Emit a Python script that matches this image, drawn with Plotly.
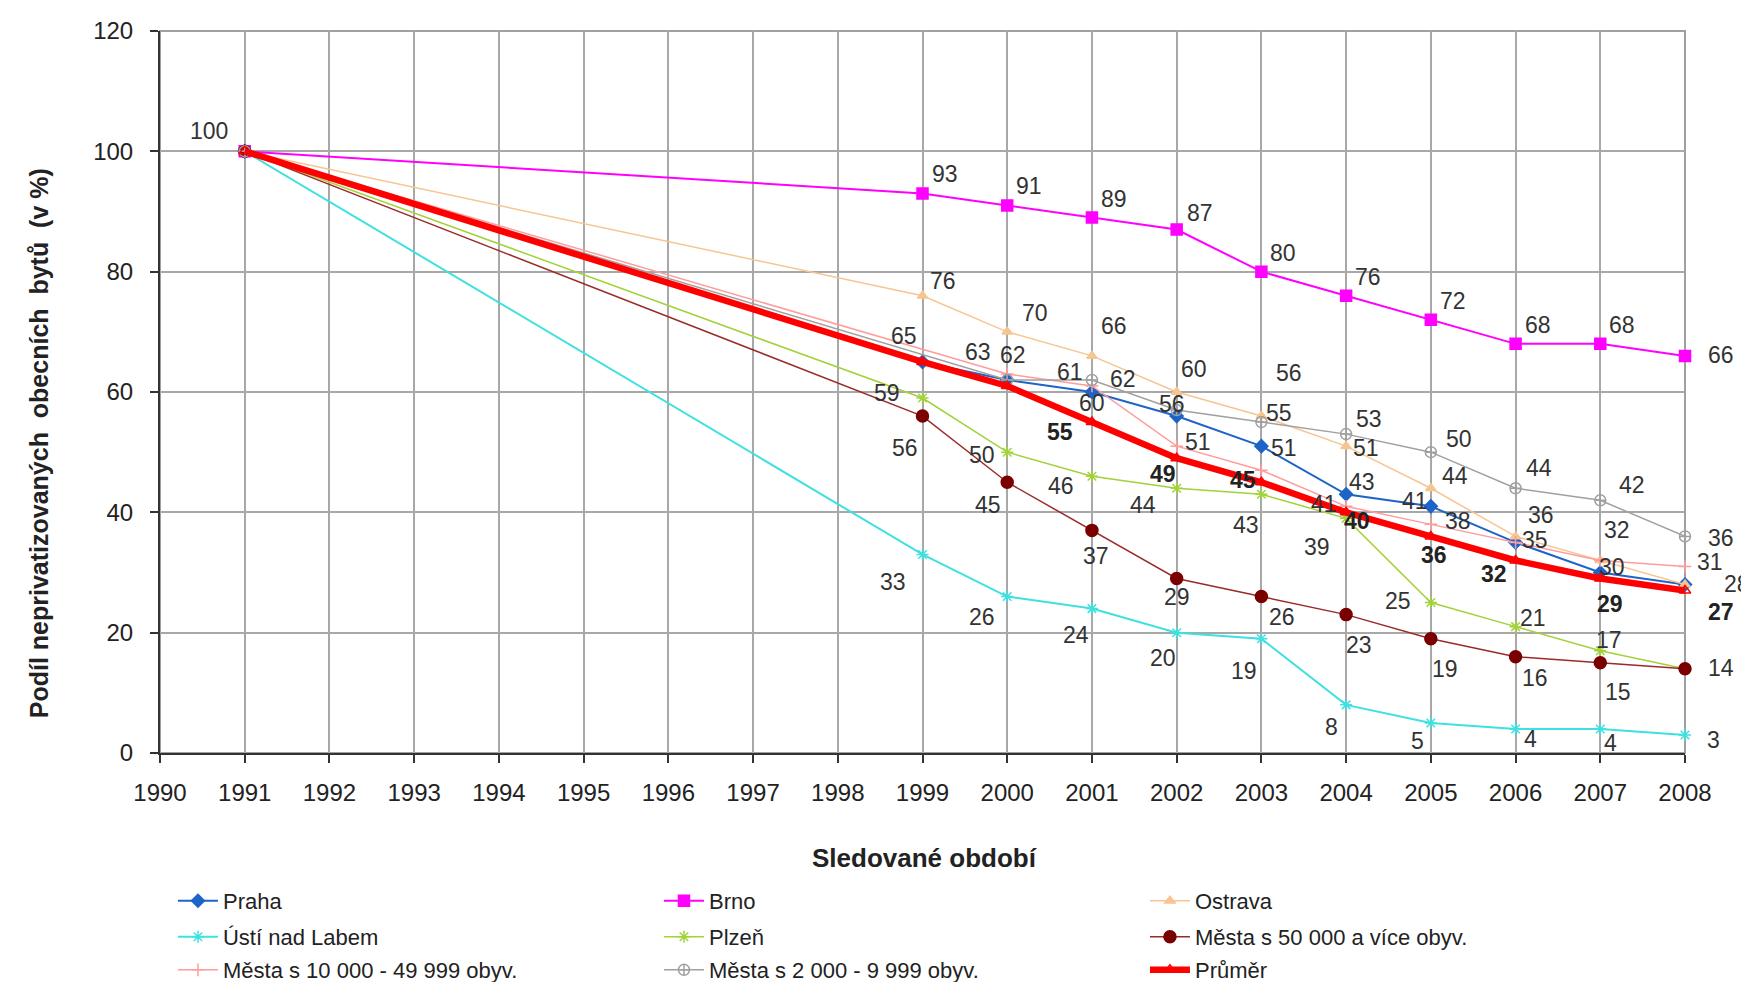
import plotly.graph_objects as go

years = [1991, 1999, 2000, 2001, 2002, 2003, 2004, 2005, 2006, 2007, 2008]

praha   = [100, 65, 62, 60, 56, 51, 43, 41, 35, 30, 28]
brno    = [100, 93, 91, 89, 87, 80, 76, 72, 68, 68, 66]
ostrava = [100, 76, 70, 66, 60, 56, 51, 44, 36, 32, 28]
usti    = [100, 33, 26, 24, 20, 19, 8, 5, 4, 4, 3]
plzen   = [100, 59, 50, 46, 44, 43, 39, 25, 21, 17, 14]
m50k    = [100, 56, 45, 37, 29, 26, 23, 19, 16, 15, 14]
m10k    = [100, None, 63, 61, 51, 47, 41, 38, 35, 32, 31]
m2k     = [100, None, 62, 62, 57, 55, 53, 50, 44, 42, 36]
prumer  = [100, 65, 61, 55, 49, 45, 40, 36, 32, 29, 27]

names = ["Praha", "Brno", "Ostrava", "Ústí nad Labem", "Plzeň",
         "Města s 50 000 a více obyv.", "Města s 10 000 - 49 999 obyv.",
         "Města s 2 000 - 9 999 obyv.", "Průměr"]

xticks = list(range(1990, 2009))
yticks = [0, 20, 40, 60, 80, 100, 120]

x_title = "Sledované období"
y_title = "Podíl neprivatizovaných  obecních  bytů  (v %)"

# ---- label offsets in pixels (dx, dy up); None = no label (style/positioning only) ----
off_praha   = [None, (-19, 26), (6, 25), (0, -11), (-5, 12), (23, -2), (16, 12), (-16, 5), (19, 2), (12, 6), None]
off_brno    = [None, (22, 19), (22, 19), (22, 19), (23, 17), (22, 19), (22, 19), (22, 19), (22, 19), (22, 19), (36, 1)]
off_ostrava = [None, (20, 15), (28, 19), (22, 30), (17, 23), (28, 43), (20, -2), (24, 12), (25, 21), (17, 30), (52, 1)]
off_usti    = [None, (-30, -28), (-25, -20), (-16, -26), (-14, -25), (-17, -32), (-15, -22), (-13, -18), (15, -10), (10, -14), (28, -5)]
off_plzen   = [None, (-36, 5), (-25, -3), (-31, -10), (-34, -17), (-15, -31), (-29, -29), (-33, 2), (17, 9), (9, 11), None]
off_m50k    = [None, (-18, -32), (-19, -23), (4, -26), (0, -18), (21, -20), (13, -30), (14, -30), (19, -21), (18, -29), (36, 1)]
off_m10k    = [None, None, (-29, 22), (-22, 14), (21, 4), None, (-22, 2), (27, 3), None, None, (25, 4)]
off_m2k     = [None, None, None, (31, 1), None, (18, 9), (23, 15), (28, 13), (23, 20), (32, 15), (36, -2)]
off_prumer  = [(-36, 20), None, None, (-32, -10), (-14, -16), (-18, 2), (11, -9), (3, -19), (-22, -14), (10, -25), (36, -21)]

styles = [
    dict(color="#1E64C8", width=2, symbol="diamond", msize=10, mcolor="#1E64C8"),
    dict(color="#FF00FF", width=2, symbol="square", msize=11, mcolor="#FF00FF"),
    dict(color="#F7C591", width=1.5, symbol="triangle-up", msize=9, mcolor="#F7C591"),
    dict(color="#3FE0E0", width=2, symbol="asterisk-open", msize=10, mcolor="#3FE0E0"),
    dict(color="#A2D23A", width=1.5, symbol="asterisk-open", msize=10, mcolor="#A2D23A"),
    dict(color="#9B2B2B", width=1.5, symbol="circle", msize=12, mcolor="#7A0000"),
    dict(color="#FF9C9C", width=1.5, symbol="cross-thin-open", msize=9, mcolor="#FF9C9C"),
    dict(color="#A0A0A0", width=1.5, symbol="circle-cross-open", msize=11, mcolor="#A0A0A0"),
    dict(color="#FF0000", width=6.5, symbol="triangle-up-open", msize=10, mcolor="#FF0000"),
]
legend_ids = ["legend", "legend", "legend", "legend2", "legend2", "legend2",
              "legend3", "legend3", "legend3"]

series = [praha, brno, ostrava, usti, plzen, m50k, m10k, m2k, prumer]
offsets = [off_praha, off_brno, off_ostrava, off_usti, off_plzen, off_m50k,
           off_m10k, off_m2k, off_prumer]

FONT = "Liberation Sans, Arial, sans-serif"

fig = go.Figure()
annotations = []
for name, vals, offs, st, lg in zip(names, series, offsets, styles, legend_ids):
    fig.add_trace(go.Scatter(
        x=years, y=vals, name=name, mode="lines+markers",
        connectgaps=True, legend=lg,
        line=dict(color=st["color"], width=st["width"]),
        marker=dict(symbol=st["symbol"], size=st["msize"], color=st["mcolor"],
                    line=dict(color=st["mcolor"], width=1.5)),
        cliponaxis=False,
    ))
    for yr, v, o in zip(years, vals, offs):
        if v is None or o is None:
            continue
        bold = (name == "Průměr" and yr != 1991)
        annotations.append(dict(
            x=yr, y=v, xref="x", yref="y", text=(f"<b>{v}</b>" if bold else str(v)),
            showarrow=False, xshift=o[0], yshift=o[1],
            font=dict(family=FONT, size=23, color="#222222" if bold else "#333333"),
        ))

# axis titles as annotations
annotations.append(dict(
    x=0.5016, y=-0.1454, xref="paper", yref="paper", text=f"<b>{x_title}</b>",
    showarrow=False, xanchor="center", yanchor="middle",
    font=dict(family=FONT, size=26, color="#222222")))
annotations.append(dict(
    x=0, y=0.429, xref="paper", yref="paper", text=f"<b>{y_title}</b>",
    showarrow=False, xanchor="center", yanchor="middle", textangle=-90, xshift=-121,
    font=dict(family=FONT, size=25, color="#222222")))

leg_common = dict(orientation="h", xanchor="left", yanchor="middle",
                  entrywidth=431, entrywidthmode="pixels", traceorder="normal",
                  font=dict(family=FONT, size=22, color="#222222"), itemwidth=40,
                  bgcolor="rgba(0,0,0,0)")

fig.update_layout(
    width=1749, height=982,
    margin=dict(l=152, r=72, t=23, b=237, autoexpand=False),
    paper_bgcolor="white", plot_bgcolor="white",
    font=dict(family=FONT, size=22, color="#222222"),
    showlegend=True,
    legend=dict(x=0.0085, y=-0.205, **leg_common),
    legend2=dict(x=0.0085, y=-0.2548, **leg_common),
    legend3=dict(x=0.0085, y=-0.3006, **leg_common),
    annotations=annotations,
    shapes=[dict(type="rect", xref="paper", yref="paper", x0=0, y0=0, x1=1, y1=1,
                 line=dict(color="#A0A0A0", width=2), layer="below")],
)

fig.update_xaxes(
    range=[1990, 2008], tickmode="array", tickvals=xticks,
    ticktext=[str(t) for t in xticks],
    showgrid=True, gridcolor="#A8A8A8", gridwidth=1.5,
    showline=True, linecolor="#333333", linewidth=2,
    ticks="outside", ticklen=8, tickcolor="#333333", tickwidth=2,
    ticklabelstandoff=9,
    tickfont=dict(family=FONT, size=24, color="#222222"),
    zeroline=False,
)
fig.update_yaxes(
    range=[0, 120], tickmode="array", tickvals=yticks,
    showgrid=True, gridcolor="#A8A8A8", gridwidth=1.5,
    showline=True, linecolor="#333333", linewidth=2,
    ticks="outside", ticklen=8, tickcolor="#333333", tickwidth=2,
    ticklabelstandoff=12,
    tickfont=dict(family=FONT, size=24, color="#222222"),
    zeroline=False,
)

fig.write_html("out.html")
